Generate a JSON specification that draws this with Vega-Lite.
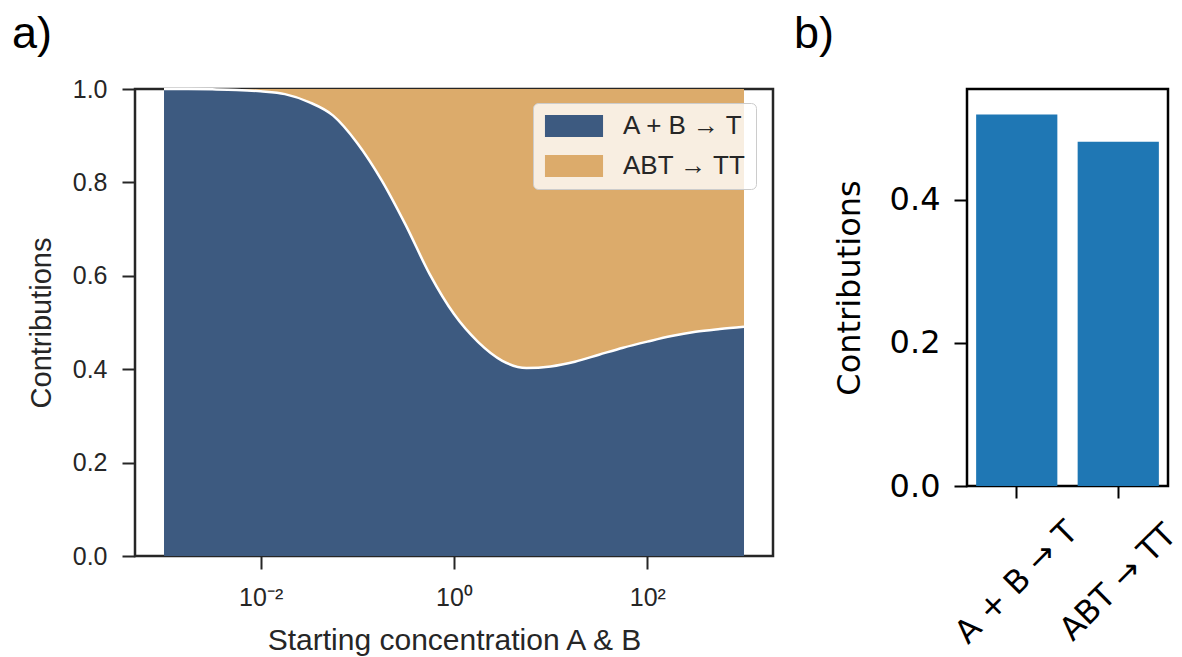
{
  "$schema": "https://vega.github.io/schema/vega-lite/v6.json",
  "background": "white",
  "padding": {"left": 10, "top": 10, "right": 0, "bottom": 0},
  "config": {"view": {"stroke": null}, "concat": {"spacing": 17}},
  "hconcat": [
    {
      "width": 638,
      "height": 467,
      "title": {"text": "a)", "anchor": "start", "frame": "group", "dx": -123, "fontSize": 45, "font": "Liberation Sans", "fontWeight": "normal", "color": "black", "offset": 20},
      "view": {"stroke": "#262626", "strokeWidth": 2.5},
      "data": {"values": [
        {"c": 0.001, "ab": 1.0},
        {"c": 0.00178, "ab": 0.9998},
        {"c": 0.00316, "ab": 0.9992},
        {"c": 0.00562, "ab": 0.998},
        {"c": 0.01, "ab": 0.995},
        {"c": 0.0178, "ab": 0.989},
        {"c": 0.0316, "ab": 0.972},
        {"c": 0.0562, "ab": 0.943},
        {"c": 0.1, "ab": 0.884},
        {"c": 0.178, "ab": 0.805},
        {"c": 0.316, "ab": 0.709},
        {"c": 0.562, "ab": 0.603},
        {"c": 1, "ab": 0.518},
        {"c": 1.78, "ab": 0.458},
        {"c": 3.16, "ab": 0.418},
        {"c": 5.62, "ab": 0.4025},
        {"c": 10, "ab": 0.406},
        {"c": 17.8, "ab": 0.416},
        {"c": 31.6, "ab": 0.431},
        {"c": 56.2, "ab": 0.446},
        {"c": 100, "ab": 0.459},
        {"c": 178, "ab": 0.471},
        {"c": 316, "ab": 0.480},
        {"c": 562, "ab": 0.486},
        {"c": 1000, "ab": 0.491}
      ]},
      "encoding": {
        "x": {
          "field": "c", "type": "quantitative",
          "scale": {"type": "log", "domain": [0.000501, 1995], "nice": false},
          "axis": {
            "title": "Starting concentration A & B",
            "values": [0.01, 1, 100],
            "labelExpr": "datum.value < 0.1 ? '10⁻²' : datum.value < 10 ? '10⁰' : '10²'",
            "grid": false, "domain": false,
            "tickColor": "#262626", "tickWidth": 2, "tickSize": 13,
            "labelFontSize": 25, "labelFont": "Liberation Sans", "labelColor": "#262626", "labelPadding": 16,
            "titleFontSize": 30, "titleFont": "Liberation Sans", "titleFontWeight": "normal", "titleColor": "#262626", "titlePadding": 15
          }
        }
      },
      "layer": [
        {
          "mark": {"type": "area", "interpolate": "monotone"},
          "encoding": {
            "y": {"field": "ab", "type": "quantitative", "scale": {"domain": [0, 1], "nice": false},
              "axis": {
                "title": "Contributions",
                "values": [0, 0.2, 0.4, 0.6, 0.8, 1],
                "format": ".1f",
                "grid": false, "domain": false,
                "tickColor": "#262626", "tickWidth": 2, "tickSize": 13,
                "labelFontSize": 25, "labelFont": "Liberation Sans", "labelColor": "#262626", "labelPadding": 15,
                "titleFontSize": 29, "titleFont": "Liberation Sans", "titleFontWeight": "normal", "titleColor": "#262626", "titlePadding": 16
              }
            },
            "y2": {"datum": 1},
            "color": {
              "datum": "ABT → TT",
              "scale": {"domain": ["A + B → T", "ABT → TT"], "range": ["#3d5a80", "#dcab6b"]},
              "legend": {
                "orient": "none", "legendX": 398, "legendY": 14,
                "title": null,
                "symbolType": "M-2.64,-1H2.64V1H-2.64Z", "symbolSize": 484, "symbolOffset": 18, "symbolStrokeWidth": 0, "symbolOpacity": 1,
                "labelFontSize": 26, "labelFont": "Liberation Sans", "labelColor": "#262626", "labelOffset": 36,
                "padding": 10, "rowPadding": 14,
                "fillColor": "rgba(255,255,255,0.8)", "strokeColor": "#cccccc", "cornerRadius": 5
              }
            }
          }
        },
        {
          "mark": {"type": "area", "interpolate": "monotone"},
          "encoding": {
            "y": {"field": "ab", "type": "quantitative"},
            "color": {"datum": "A + B → T"}
          }
        },
        {
          "mark": {"type": "line", "interpolate": "monotone", "color": "white", "strokeWidth": 2.5},
          "encoding": {
            "y": {"field": "ab", "type": "quantitative"}
          }
        }
      ]
    },
    {
      "width": 201,
      "height": 397,
      "title": {"text": "b)", "anchor": "start", "frame": "group", "dx": -173, "fontSize": 45, "font": "Liberation Sans", "fontWeight": "normal", "color": "black", "offset": 32},
      "view": {"stroke": "black", "strokeWidth": 2.5},
      "data": {"values": [
        {"r": "A + B → T", "v": 0.519},
        {"r": "ABT → TT", "v": 0.481}
      ]},
      "mark": {"type": "bar", "color": "#1f77b4"},
      "encoding": {
        "x": {
          "field": "r", "type": "nominal", "sort": null,
          "scale": {"paddingInner": 0.2, "paddingOuter": 0.09},
          "axis": {
            "title": null, "labelAngle": -45, "labelAlign": "center", "labelBaseline": "middle", "labelPadding": 84,
            "labelFontSize": 32, "labelFont": "DejaVu Sans", "labelColor": "black",
            "tickColor": "black", "tickWidth": 2, "tickSize": 12, "domain": false
          }
        },
        "y": {
          "field": "v", "type": "quantitative",
          "scale": {"domain": [0, 0.5548], "nice": false},
          "axis": {
            "title": "Contributions", "values": [0, 0.2, 0.4], "format": ".1f",
            "grid": false, "domain": false,
            "tickColor": "black", "tickWidth": 2, "tickSize": 13,
            "labelFontSize": 32, "labelFont": "DejaVu Sans", "labelColor": "black", "labelPadding": 14,
            "titleFontSize": 32, "titleFont": "DejaVu Sans", "titleFontWeight": "normal", "titleColor": "black", "titlePadding": 23
          }
        }
      }
    }
  ]
}
